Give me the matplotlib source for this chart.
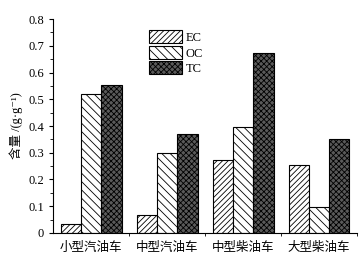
import numpy as np
import matplotlib
matplotlib.use('Agg')
import matplotlib.pyplot as plt
from matplotlib.ticker import MultipleLocator, FixedLocator, FuncFormatter

plt.rcParams['font.family'] = ['Liberation Serif', 'Noto Sans CJK SC', 'DejaVu Sans']
plt.rcParams['hatch.linewidth'] = 0.6

categories = ['小型汽油车', '中型汽油车', '中型柴油车', '大型柴油车']
series = ['EC', 'OC', 'TC']
ec = [0.033, 0.067, 0.273, 0.253]
oc = [0.521, 0.300, 0.395, 0.096]
tc = [0.555, 0.371, 0.672, 0.350]

fig = plt.figure(figsize=(3.64, 2.62), dpi=100)
ax = fig.add_axes([0.146, 0.111, 0.835, 0.816])

x = np.arange(1, len(categories) + 1)
w = 0.8 / 3
styles = [('white', '//////'), ('white', '\\\\\\\\'), ('#5a5a5a', 'xxxxxx')]
for i, (vals, (fc, h)) in enumerate(zip([ec, oc, tc], styles)):
    ax.bar(x + (i - 1) * w, vals, w, facecolor=fc, edgecolor='black',
           hatch=h, linewidth=0.8, label=series[i])

ax.set_xlim(0.5, 4.5)
ax.set_ylim(0, 0.8)
ax.set_xticks(x)
ax.set_xticklabels(categories, fontsize=9, family=['Noto Sans CJK SC'])
ax.xaxis.set_minor_locator(FixedLocator([1.5, 2.5, 3.5, 4.5]))
ax.tick_params(axis='x', which='major', length=0, pad=6)
ax.tick_params(axis='x', which='minor', length=2, direction='out')
ax.yaxis.set_major_locator(MultipleLocator(0.1))
ax.yaxis.set_minor_locator(MultipleLocator(0.05))
ax.yaxis.set_major_formatter(FuncFormatter(lambda v, p: '0' if abs(v) < 1e-9 else '%.1f' % v))
ax.tick_params(axis='y', which='major', length=3, direction='out', labelsize=9)
ax.tick_params(axis='y', which='minor', length=2, direction='out')
ax.spines['top'].set_visible(False)
ax.spines['right'].set_visible(False)
ax.set_ylabel('含量 /(g·g⁻¹)', fontsize=9)

ax.legend(loc='upper left', bbox_to_anchor=(0.28, 1.0), frameon=False, fontsize=9,
          handlelength=2.6, handleheight=1.2, labelspacing=0.15, handletextpad=0.3)

fig.savefig('out.png', dpi=100)
